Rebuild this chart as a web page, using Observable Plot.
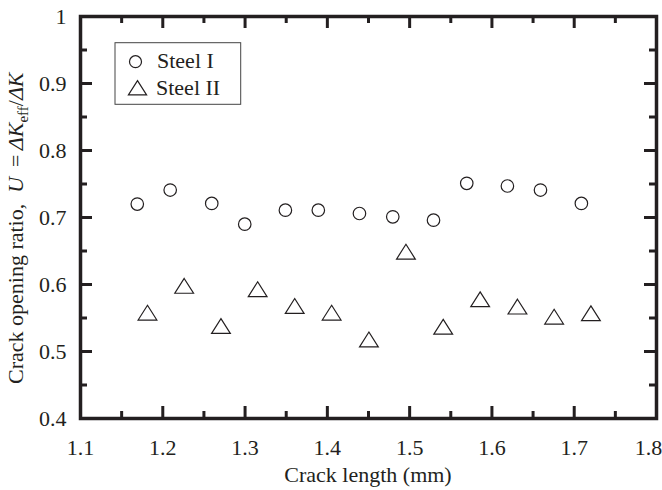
<!DOCTYPE html>
<html>
<head>
<meta charset="utf-8">
<script src="https://cdn.jsdelivr.net/npm/d3@7"></script>
<script src="https://cdn.jsdelivr.net/npm/@observablehq/plot@0.6"></script>
<style>
  html, body { margin: 0; padding: 0; background: #fff; }
</style>
</head>
<body>
<div id="chart"></div>
<script>
// ---- data ----
const seriesNames = ["Steel I", "Steel II"];
const steel1X = [1.169, 1.209, 1.2595, 1.2996, 1.349, 1.389, 1.439, 1.4795, 1.529, 1.5694, 1.6188, 1.659, 1.7087];
const steel1U = [0.720, 0.741, 0.721, 0.690, 0.711, 0.711, 0.706, 0.701, 0.696, 0.751, 0.747, 0.741, 0.721];
const steel2X = [1.1814, 1.226, 1.2707, 1.3153, 1.3603, 1.4052, 1.4505, 1.4955, 1.5408, 1.5857, 1.631, 1.6756, 1.7203];
const steel2U = [0.558, 0.598, 0.538, 0.593, 0.568, 0.558, 0.518, 0.649, 0.537, 0.578, 0.567, 0.552, 0.557];
const xTickLabels = ["1.1", "1.2", "1.3", "1.4", "1.5", "1.6", "1.7", "1.8"];
const yTickLabels = ["0.4", "0.5", "0.6", "0.7", "0.8", "0.9", "1"];
const xMinor = [1.15, 1.25, 1.35, 1.45, 1.55, 1.65, 1.75];
const yMinor = [0.45, 0.55, 0.65, 0.75, 0.85, 0.95];
const xLabel = "Crack length (mm)";

// ---- tables built from the arrays ----
const s1 = steel1X.map((x, i) => ({x, u: steel1U[i]}));
const s2 = steel2X.map((x, i) => ({x, u: steel2U[i]}));
const xTicks = xTickLabels.map(Number);
const yTicks = yTickLabels.map(Number);
const xMajorInner = xTicks.slice(1, -1);
const yMajorInner = yTicks.slice(1, -1);

const ink = "#231f20";
const W = 662, H = 490, mL = 80, mR = 6, mT = 16, mB = 72;
const pw = W - mL - mR, ph = H - mT - mB;
const major = 12, minor = 7;

// triangle centred on its bounding box
const triBox = {
  draw(ctx, size) {
    const r = Math.sqrt(size / Math.PI);
    const hw = r * 1.42, hh = r * 1.12;
    ctx.moveTo(0, -hh);
    ctx.lineTo(hw, hh);
    ctx.lineTo(-hw, hh);
    ctx.closePath();
  }
};

const tickStyle = {stroke: ink, strokeWidth: 3};
const font = "'Liberation Serif', 'Times New Roman', serif";

const svg = Plot.plot({
  width: W, height: H,
  marginLeft: mL, marginRight: mR, marginTop: mT, marginBottom: mB,
  style: {fontFamily: font, fontSize: "22px", color: ink, background: "#fff"},
  x: {domain: [1.1, 1.8]},
  y: {domain: [0.4, 1]},
  marks: [
    Plot.axisX({ticks: xTicks.slice(0, -1), tickSize: 0, tickPadding: 21, tickFormat: (d, i) => xTickLabels[i], fontSize: 22, label: null}),
    Plot.axisX({ticks: xTicks.slice(-1), tickSize: 0, tickPadding: 21, tickFormat: () => xTickLabels[xTickLabels.length - 1], fontSize: 22, label: null, dx: -8}),
    Plot.axisY({ticks: yTicks, tickSize: 0, tickPadding: 14, tickFormat: (d, i) => yTickLabels[i], fontSize: 22, label: null}),
    // inward ticks: bottom / top
    Plot.tickX(xMajorInner, {x: d => d, insetTop: ph - major, ...tickStyle}),
    Plot.tickX(xMinor, {x: d => d, insetTop: ph - minor, ...tickStyle}),
    Plot.tickX(xMajorInner, {x: d => d, insetBottom: ph - major, ...tickStyle}),
    Plot.tickX(xMinor, {x: d => d, insetBottom: ph - minor, ...tickStyle}),
    // inward ticks: left / right
    Plot.tickY(yMajorInner, {y: d => d, insetRight: pw - major, ...tickStyle}),
    Plot.tickY(yMinor, {y: d => d, insetRight: pw - minor, ...tickStyle}),
    Plot.tickY(yMajorInner, {y: d => d, insetLeft: pw - major, ...tickStyle}),
    Plot.tickY(yMinor, {y: d => d, insetLeft: pw - minor, ...tickStyle}),
    Plot.frame({stroke: ink, strokeWidth: 3.5}),
    Plot.dot(s1, {x: "x", y: "u", r: 6.25, symbol: "circle", stroke: ink, fill: "none", strokeWidth: 1.2}),
    Plot.dot(s2, {x: "x", y: "u", r: 6.6, symbol: triBox, stroke: ink, fill: "none", strokeWidth: 1.2})
  ]
});

const sel = d3.select(svg);

// x axis title
sel.append("text")
  .attr("x", mL + pw / 2).attr("y", 482)
  .attr("text-anchor", "middle")
  .style("font-family", font).style("font-size", "22px").attr("fill", ink)
  .text(xLabel);

// y axis title with math
const yt = sel.append("text")
  .attr("transform", "translate(23,384) rotate(-90)")
  .attr("text-anchor", "start")
  .style("font-family", font).style("font-size", "22px").attr("fill", ink);
yt.append("tspan").text("Crack opening ratio,\u00a0\u00a0");
yt.append("tspan").style("font-style", "italic").text("U");
yt.append("tspan").text("\u00a0\u2009=\u2009");
yt.append("tspan").style("font-style", "italic").text("\u0394K");
yt.append("tspan").attr("dy", 5).style("font-size", "15px").text("eff");
yt.append("tspan").attr("dy", -5).text("/");
yt.append("tspan").style("font-style", "italic").text("\u0394K");

// legend
const lg = sel.append("g");
lg.append("rect").attr("x", 115).attr("y", 42.7).attr("width", 125.7).attr("height", 61.6)
  .attr("fill", "#fff").attr("stroke", "#444").attr("stroke-width", 1);
lg.append("path").attr("transform", "translate(135.5,61.7)")
  .attr("d", d3.symbol(d3.symbolCircle, Math.PI * 6 * 6)())
  .attr("fill", "none").attr("stroke", ink).attr("stroke-width", 1.2);
lg.append("path").attr("transform", "translate(137.5,87.8)")
  .attr("d", d3.symbol(triBox, Math.PI * 6.4 * 6.4)())
  .attr("fill", "none").attr("stroke", ink).attr("stroke-width", 1.2);
lg.append("text").attr("x", 157).attr("y", 67.5).attr("text-anchor", "start")
  .style("font-family", font).style("font-size", "22px").attr("fill", ink).text(seriesNames[0]);
lg.append("text").attr("x", 156).attr("y", 95).attr("text-anchor", "start")
  .style("font-family", font).style("font-size", "22px").attr("fill", ink).text(seriesNames[1]);

document.getElementById("chart").appendChild(svg);
</script>
</body>
</html>
